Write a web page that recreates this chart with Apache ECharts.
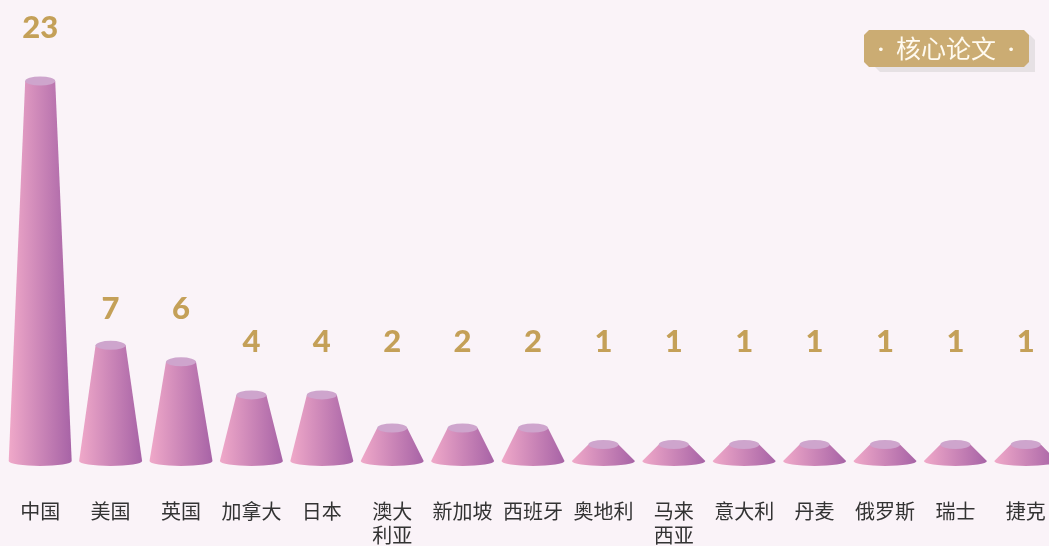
<!DOCTYPE html>
<html>
<head>
<meta charset="utf-8">
<script src="https://cdn.jsdelivr.net/npm/echarts@6/dist/echarts.min.js"></script>
<style>
  html, body { margin: 0; padding: 0; background: #faf3f8; }
  #chart { width: 1049px; height: 546px; }
</style>
</head>
<body>
<div id="chart"></div>
<script>
const countries = ['中国', '美国', '英国', '加拿大', '日本', '澳大利亚', '新加坡', '西班牙', '奥地利', '马来西亚', '意大利', '丹麦', '俄罗斯', '瑞士', '捷克']
const paperCounts = [23, 7, 6, 4, 4, 2, 2, 2, 1, 1, 1, 1, 1, 1, 1]
const badgeText = '核心论文'

const chart = echarts.init(document.getElementById('chart'))

// 数值标签按档位对齐
const labelLevel = (v) => {
  if (v > 10) return v
  if (v >= 5) return 6
  return 4
}

const renderCone = (params, api) => {
  const idx = api.value(0)
  const val = api.value(1)
  const top = api.coord([idx, val])
  const base = api.coord([idx, 0])
  const lbl = api.coord([idx, labelLevel(val)])
  const cx = top[0]
  const yt = top[1]
  const yb = base[1]
  const tw = 15, bw = 31.5, try_ = 4.5, bry = 5
  return {
    type: 'group',
    children: [
      {
        type: 'path',
        shape: {
          pathData: `M${cx - tw} ${yt} L${cx + tw} ${yt} L${cx + bw} ${yb} A${bw} ${bry} 0 0 1 ${cx - bw} ${yb} Z`
        },
        style: {
          fill: new echarts.graphic.LinearGradient(0, 0, 1, 0, [
            { offset: 0, color: '#f0a9c9' },
            { offset: 1, color: '#a763a6' }
          ])
        }
      },
      {
        type: 'path',
        shape: {
          pathData: `M${cx - tw} ${yt} A${tw} ${try_} 0 1 0 ${cx + tw} ${yt} A${tw} ${try_} 0 1 0 ${cx - tw} ${yt} Z`
        },
        style: { fill: '#cea5cd' }
      },
      {
        type: 'text',
        style: {
          x: cx,
          y: lbl[1] - 53,
          text: String(val),
          fill: '#c4a058',
          font: '900 31px Lato',
          align: 'center',
          verticalAlign: 'middle'
        }
      }
    ]
  }
}

const option = {
  backgroundColor: '#faf3f8',
  grid: { left: 5, right: -12, top: 81, bottom: 85, outerBoundsMode: 'none', containLabel: false },
  xAxis: {
    type: 'category',
    data: countries,
    axisLine: { show: false },
    axisTick: { show: false },
    axisLabel: {
      color: '#333',
      fontSize: 20,
      lineHeight: 24,
      margin: 38,
      interval: 0,
      fontFamily: 'Noto Sans CJK SC',
      formatter: (v) => (v.length === 4 ? v.slice(0, 2) + '\n' + v.slice(2) : v)
    }
  },
  yAxis: {
    type: 'value',
    min: 0,
    max: 23,
    show: false
  },
  series: [
    {
      type: 'custom',
      renderItem: renderCone,
      data: paperCounts.map((v, i) => [i, v]),
      clip: false
    }
  ],
  graphic: [
    {
      type: 'polygon',
      shape: { points: [[875, 35], [1030, 35], [1035, 40], [1035, 72], [880, 72], [875, 67]] },
      style: { fill: '#e6e1e4' }
    },
    {
      type: 'polygon',
      shape: { points: [[869, 30], [1024, 30], [1029, 35], [1029, 62], [1024, 67], [869, 67], [864, 62], [864, 35]] },
      style: { fill: '#cbac73' }
    },
    {
      type: 'text',
      style: {
        text: `{d|·}{t|${badgeText}}{d|·}`,
        x: 946,
        y: 48,
        align: 'center',
        verticalAlign: 'middle',
        rich: {
          d: { fill: '#fffaf0', font: '24px Lato', padding: [0, 6, 0, 6] },
          t: { fill: '#fffaf0', font: '25px "Noto Sans CJK SC"', padding: [0, 6, 0, 6] }
        }
      }
    }
  ]
}

chart.setOption(option)
</script>
</body>
</html>
